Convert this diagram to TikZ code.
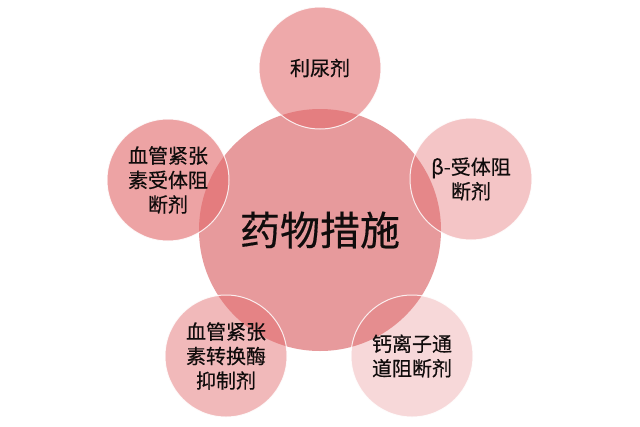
\documentclass[tikz,border=0pt]{standalone}
\usepackage{fontspec}
\newfontfamily\cjk[FakeBold=0.4]{Noto Sans CJK SC}
\definecolor{core}{HTML}{E79A9C}
\definecolor{petal}{HTML}{E36B6D}
\definecolor{ink}{HTML}{100C0C}
\tikzset{
  corenode/.style={circle, inner sep=0pt, minimum size=242pt, fill=core, text=ink,
    font=\cjk\fontsize{40}{44}\selectfont},
  petalnode/.style={circle, inner sep=0pt, minimum size=122pt, fill=petal,
    draw=white, draw opacity=0.85, line width=1pt, text=ink, text opacity=1,
    align=center, font=\cjk\fontsize{20}{24.5}\selectfont}
}
\begin{document}
\begin{tikzpicture}[x=1pt,y=-1pt]
  \useasboundingbox (0,0) rectangle (640,426);
  \fill[white] (0,0) rectangle (640,426);
  \node[corenode] (core) at (320,230) {药物措施};
  \node[petalnode, fill opacity=0.58] (top) at (320,68) {利尿剂};
  \node[petalnode, fill opacity=0.62] (left) at (168,180) {血管紧张\\素受体阻\\断剂};
  \node[petalnode, fill opacity=0.39] (right) at (471,179) {β-受体阻\\断剂};
  \node[petalnode, fill opacity=0.47] (bl) at (226,356) {血管紧张\\素转换酶\\抑制剂};
  \node[petalnode, fill opacity=0.26] (br) at (412,356) {钙离子通\\道阻断剂};
\end{tikzpicture}
\end{document}
